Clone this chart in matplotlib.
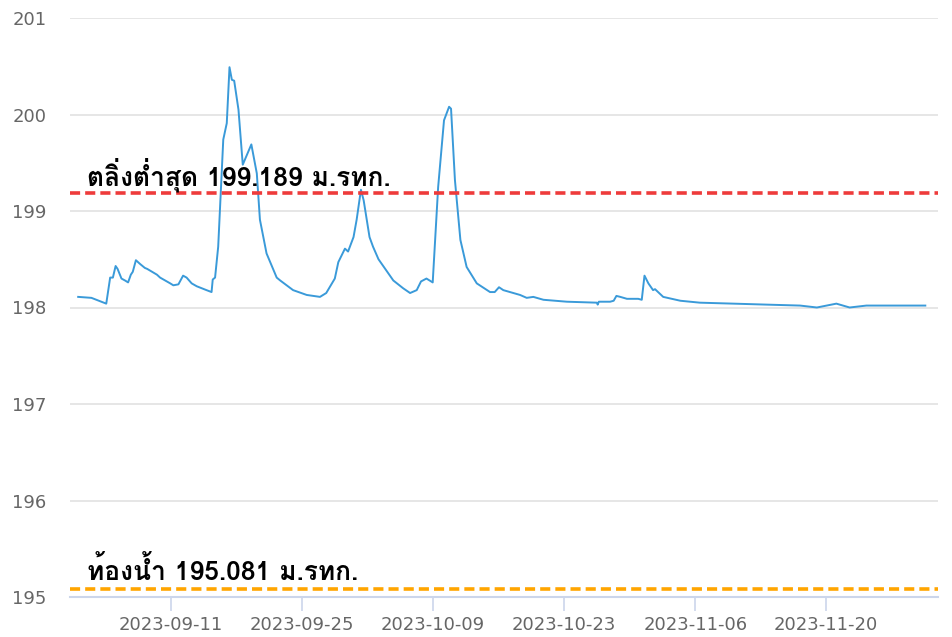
import matplotlib
matplotlib.use("Agg")
import matplotlib.pyplot as plt
import matplotlib.dates as mdates
from matplotlib import font_manager
from matplotlib.ft2font import FT2Font
import pandas as pd

# water level readings (m.MSL)
times = [
    "2023-09-01 02:00", "2023-09-02 12:00", "2023-09-04 02:00", "2023-09-04 12:00",
    "2023-09-04 19:00", "2023-09-05 02:00", "2023-09-05 07:00", "2023-09-05 17:00",
    "2023-09-06 02:00", "2023-09-06 10:00", "2023-09-06 17:00", "2023-09-06 22:00",
    "2023-09-07 06:00", "2023-09-07 17:00", "2023-09-08 05:00", "2023-09-08 11:00",
    "2023-09-09 12:00", "2023-09-09 20:00", "2023-09-10 22:00", "2023-09-11 06:00",
    "2023-09-11 19:00", "2023-09-12 07:00", "2023-09-12 16:00", "2023-09-13 05:00",
    "2023-09-13 18:00", "2023-09-14 19:00", "2023-09-15 08:00", "2023-09-15 11:00",
    "2023-09-15 17:00", "2023-09-16 01:00", "2023-09-16 14:00", "2023-09-16 23:00",
    "2023-09-17 06:00", "2023-09-17 12:00", "2023-09-17 18:00", "2023-09-18 05:00",
    "2023-09-18 16:00", "2023-09-19 14:00", "2023-09-20 04:00", "2023-09-20 12:00",
    "2023-09-21 05:00", "2023-09-22 07:00", "2023-09-22 16:00", "2023-09-24 01:00",
    "2023-09-25 12:00", "2023-09-26 22:00", "2023-09-27 14:00", "2023-09-28 12:00",
    "2023-09-28 21:00", "2023-09-29 14:00", "2023-09-29 22:00", "2023-09-30 12:00",
    "2023-09-30 20:00", "2023-10-01 07:00", "2023-10-01 14:00", "2023-10-02 05:00",
    "2023-10-02 14:00", "2023-10-03 04:00", "2023-10-04 18:00", "2023-10-05 19:00",
    "2023-10-06 13:00", "2023-10-07 06:00", "2023-10-07 17:00", "2023-10-08 07:00",
    "2023-10-08 23:00", "2023-10-09 13:00", "2023-10-10 04:00", "2023-10-10 17:00",
    "2023-10-10 22:00", "2023-10-11 08:00", "2023-10-11 22:00", "2023-10-12 14:00",
    "2023-10-13 16:00", "2023-10-15 02:00", "2023-10-15 14:00", "2023-10-16 01:00",
    "2023-10-16 12:00", "2023-10-18 07:00", "2023-10-19 00:00", "2023-10-19 17:00",
    "2023-10-20 19:00", "2023-10-23 07:00", "2023-10-26 12:00", "2023-10-26 14:00",
    "2023-10-26 17:00", "2023-10-27 22:00", "2023-10-28 07:00", "2023-10-28 14:00",
    "2023-10-29 00:00", "2023-10-29 17:00", "2023-10-30 22:00", "2023-10-31 07:00",
    "2023-10-31 14:00", "2023-11-01 00:00", "2023-11-01 12:00", "2023-11-01 17:00",
    "2023-11-02 14:00", "2023-11-04 10:00", "2023-11-06 12:00", "2023-11-10 02:00",
    "2023-11-13 14:00", "2023-11-17 05:00", "2023-11-19 00:00", "2023-11-21 02:00",
    "2023-11-22 12:00", "2023-11-24 07:00", "2023-11-27 22:00", "2023-11-30 14:00",
]
levels = [
    198.11, 198.10, 198.04, 198.31,
    198.31, 198.43, 198.40, 198.30,
    198.28, 198.26, 198.34, 198.37,
    198.49, 198.45, 198.41, 198.40,
    198.34, 198.31, 198.25, 198.23,
    198.24, 198.33, 198.31, 198.25,
    198.22, 198.18, 198.16, 198.29,
    198.31, 198.63, 199.74, 199.91,
    200.49, 200.36, 200.35, 200.05,
    199.48, 199.69, 199.39, 198.91,
    198.56, 198.31, 198.28, 198.18,
    198.13, 198.11, 198.15, 198.30,
    198.47, 198.61, 198.58, 198.73,
    198.91, 199.22, 199.11, 198.73,
    198.63, 198.50, 198.28, 198.20,
    198.15, 198.18, 198.27, 198.30,
    198.26, 199.25, 199.94, 200.08,
    200.06, 199.32, 198.70, 198.42,
    198.25, 198.16, 198.16, 198.21,
    198.18, 198.13, 198.10, 198.11,
    198.08, 198.06, 198.05, 198.03,
    198.06, 198.06, 198.07, 198.12,
    198.11, 198.09, 198.09, 198.08,
    198.33, 198.25, 198.18, 198.19,
    198.11, 198.07, 198.05, 198.04,
    198.03, 198.02, 198.00, 198.04,
    198.00, 198.02, 198.02, 198.02,
]

bank_level = 199.189
bed_level = 195.081
bank_label = "ตลิ่งต่ำสุด 199.189 ม.รทก."
bed_label = "ท้องน้ำ 195.081 ม.รทก."
tick_dates = ["2023-09-11", "2023-09-25", "2023-10-09", "2023-10-23", "2023-11-06", "2023-11-20"]
y_ticks = [195, 196, 197, 198, 199, 200, 201]


def find_thai_font():
    names = []
    for f in font_manager.fontManager.ttflist:
        try:
            if 0x0E15 in FT2Font(f.fname).get_charmap():
                names.append(f.name)
        except Exception:
            pass
    for pref in ["Tahoma", "Loma", "Garuda", "Noto Sans Thai", "Noto Sans Thai UI", "Sarabun"]:
        if pref in names:
            return pref
    return names[0] if names else None


thai = find_thai_font()
label_family = [thai, "DejaVu Sans"] if thai else ["DejaVu Sans"]

df = pd.DataFrame({"time": pd.to_datetime(times), "level": levels})

fig = plt.figure(figsize=(9.52, 6.37), dpi=100)
ax = fig.add_axes([70 / 952, 40 / 637, 868 / 952, 579 / 637])

ax.plot(df["time"], df["level"], color="#3a9ad9", linewidth=1.4, zorder=3)

ax.axhline(bank_level, color="#ee3b3b", linewidth=2.6, dashes=(2.8, 1.4), zorder=4)
ax.axhline(bed_level, color="#ffa500", linewidth=2.6, dashes=(2.8, 1.4), zorder=4)

t0 = mdates.date2num(pd.Timestamp("2023-09-11"))
ax.set_xlim(t0 - 10.79, t0 + 81.94)
ax.set_ylim(195, 201)

ax.text(t0 - 9.0, bank_level + 0.08, bank_label, fontsize=19, fontweight="bold",
        family=label_family, color="black", va="baseline", zorder=5)
ax.text(t0 - 9.0, bed_level + 0.1, bed_label, fontsize=19, fontweight="bold",
        family=label_family, color="black", va="baseline", zorder=5)

ax.set_yticks(y_ticks)
ax.set_xticks([mdates.date2num(pd.Timestamp(d)) for d in tick_dates])
ax.set_xticklabels(tick_dates)
ax.grid(axis="y", color="#e6e6e6", linewidth=1.4, zorder=0)
ax.tick_params(axis="y", length=0, labelsize=13, labelcolor="#666666", pad=17)
ax.tick_params(axis="x", length=10, width=1.2, color="#ccd6eb", labelsize=13,
               labelcolor="#666666", pad=4)

for s in ["top", "right", "left"]:
    ax.spines[s].set_visible(False)
ax.spines["bottom"].set_color("#ccd6eb")
ax.spines["bottom"].set_linewidth(1.5)

fig.savefig("out.png", dpi=100)
